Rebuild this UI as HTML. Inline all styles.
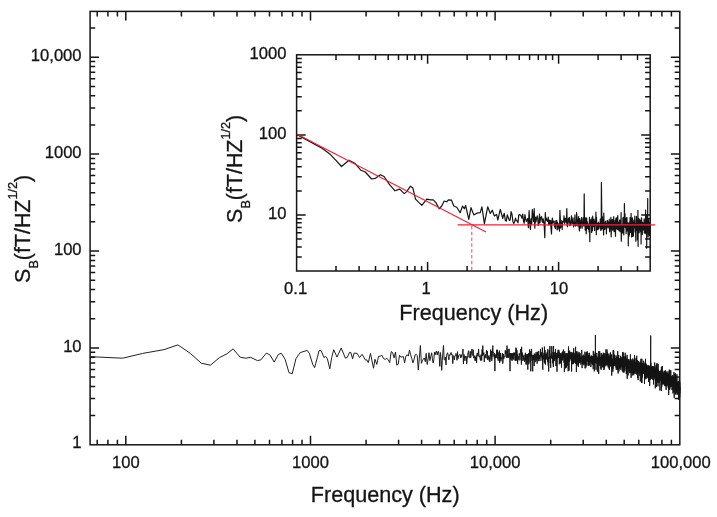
<!DOCTYPE html>
<html lang="en">
<head>
<meta charset="utf-8">
<title>Magnetic field noise spectrum</title>
<style>
html,body{margin:0;padding:0;background:#ffffff;}
body{width:717px;height:517px;overflow:hidden;}
svg{display:block;}
</style>
</head>
<body>
<svg width="717" height="517" viewBox="0 0 717 517">
<rect x="0" y="0" width="717" height="517" fill="#ffffff"/>
<g font-family="'Liberation Sans', Arial, sans-serif" fill="#151515">
<rect x="90.1" y="11.4" width="589.7" height="433.4" fill="none" stroke="#151515" stroke-width="1.5"/>
<path d="M97.2 444.8v-5.1M97.2 11.4v5.1M107.9 444.8v-5.1M107.9 11.4v5.1M117.4 444.8v-5.1M117.4 11.4v5.1M125.8 444.8v-9M125.8 11.4v9M181.4 444.8v-5.1M181.4 11.4v5.1M213.9 444.8v-5.1M213.9 11.4v5.1M237 444.8v-5.1M237 11.4v5.1M254.9 444.8v-5.1M254.9 11.4v5.1M269.5 444.8v-5.1M269.5 11.4v5.1M281.9 444.8v-5.1M281.9 11.4v5.1M292.6 444.8v-5.1M292.6 11.4v5.1M302 444.8v-5.1M302 11.4v5.1M310.5 444.8v-9M310.5 11.4v9M366.1 444.8v-5.1M366.1 11.4v5.1M398.6 444.8v-5.1M398.6 11.4v5.1M421.6 444.8v-5.1M421.6 11.4v5.1M439.5 444.8v-5.1M439.5 11.4v5.1M454.2 444.8v-5.1M454.2 11.4v5.1M466.5 444.8v-5.1M466.5 11.4v5.1M477.2 444.8v-5.1M477.2 11.4v5.1M486.7 444.8v-5.1M486.7 11.4v5.1M495.1 444.8v-9M495.1 11.4v9M550.7 444.8v-5.1M550.7 11.4v5.1M583.2 444.8v-5.1M583.2 11.4v5.1M606.3 444.8v-5.1M606.3 11.4v5.1M624.2 444.8v-5.1M624.2 11.4v5.1M638.8 444.8v-5.1M638.8 11.4v5.1M651.2 444.8v-5.1M651.2 11.4v5.1M661.9 444.8v-5.1M661.9 11.4v5.1M671.4 444.8v-5.1M671.4 11.4v5.1M90.1 415.6h5.1M679.8 415.6h-5.1M90.1 398.6h5.1M679.8 398.6h-5.1M90.1 386.5h5.1M679.8 386.5h-5.1M90.1 377.1h5.1M679.8 377.1h-5.1M90.1 369.4h5.1M679.8 369.4h-5.1M90.1 362.9h5.1M679.8 362.9h-5.1M90.1 357.3h5.1M679.8 357.3h-5.1M90.1 352.3h5.1M679.8 352.3h-5.1M90.1 347.9h9M679.8 347.9h-9M90.1 318.7h5.1M679.8 318.7h-5.1M90.1 301.7h5.1M679.8 301.7h-5.1M90.1 289.6h5.1M679.8 289.6h-5.1M90.1 280.2h5.1M679.8 280.2h-5.1M90.1 272.5h5.1M679.8 272.5h-5.1M90.1 266h5.1M679.8 266h-5.1M90.1 260.4h5.1M679.8 260.4h-5.1M90.1 255.4h5.1M679.8 255.4h-5.1M90.1 251h9M679.8 251h-9M90.1 221.8h5.1M679.8 221.8h-5.1M90.1 204.8h5.1M679.8 204.8h-5.1M90.1 192.7h5.1M679.8 192.7h-5.1M90.1 183.3h5.1M679.8 183.3h-5.1M90.1 175.6h5.1M679.8 175.6h-5.1M90.1 169.1h5.1M679.8 169.1h-5.1M90.1 163.5h5.1M679.8 163.5h-5.1M90.1 158.5h5.1M679.8 158.5h-5.1M90.1 154.1h9M679.8 154.1h-9M90.1 124.9h5.1M679.8 124.9h-5.1M90.1 107.9h5.1M679.8 107.9h-5.1M90.1 95.8h5.1M679.8 95.8h-5.1M90.1 86.4h5.1M679.8 86.4h-5.1M90.1 78.7h5.1M679.8 78.7h-5.1M90.1 72.2h5.1M679.8 72.2h-5.1M90.1 66.6h5.1M679.8 66.6h-5.1M90.1 61.6h5.1M679.8 61.6h-5.1M90.1 57.2h9M679.8 57.2h-9M90.1 28h5.1M679.8 28h-5.1" fill="none" stroke="#151515" stroke-width="1.5"/>
<polyline points="90.5,356.7 122.7,358.2 142.7,353.4 164.1,349.6 177.9,344.9 190.4,353.4 201.2,363.2 210.5,365.2 219.3,357.7 226.9,353.9 233.1,348.9 240.2,357.2 245.7,358.2 250.7,357.4 257.5,360.6 260.9,359.8 266.4,353.1 270.1,355.1 274.2,362.1 278.4,354.3 281.4,353.4 285.1,359.3 289,372.7 292.2,373.8 296,358.5 300.2,352.6 307.2,350.4 309.4,353.4 312.7,364.3 314.6,367.7 317.3,357.6 319.1,350.6 321.1,350.6 324,357.6 325.6,356.4 327.3,358.5 329.8,368.8 331.7,357.6 333.7,349.7 337,357.1 341.2,348.1 345.4,358.1 347.1,357.6 349.6,352.3 350.9,352.6 352.6,358.8 354.1,353.1 357.1,353.4 359.6,357.6 362.1,354.3 365.5,360.1 366.8,359.8 368.3,362.6 370.5,353.4 373.5,368.2 375,359.3 376.8,364.4 378.5,356.4 380.2,356.2 381.9,355.2 383.5,358.5 385.1,359.4 386.7,358.4 388.2,359.7 389.7,362.6 391.2,351.6 392.6,352.6 394.1,357.9 395.5,352 396.8,365.2 398.2,364.3 399.5,355.3 400.8,357.1 402.1,356.8 403.4,356.6 404.6,362.9 405.9,356.1 407.1,354.7 408.3,356.1 409.5,350 410.6,354.8 411.8,358.5 412.9,362.8 414,359.7 415.1,355 416.2,354.3 417.2,355.5 418.3,369.9 419.3,358.1 420.4,345.5 421.4,363.3 422.4,360.7 423.4,359.1 424.3,358 425.3,361.7 426.2,353.4 427.2,364.5 428.1,359.1 429,352.7 429.9,360.6 430.8,356.4 431.7,352.8 432.4,358.7 433.1,363 433.8,359.8 434.5,352.1 435.2,354.8 435.9,352 436.5,351 437.2,354.9 437.9,351.7 438.5,351.3 439.2,356.4 439.8,366.4 440.4,352.5 441.1,358.9 441.7,370.3 442.3,360.5 442.9,351.8 443.5,345.5 444.2,359.5 444.8,360.2 445.4,357.1 446,364.9 446.5,355.7 447.1,353.3 447.7,352.8 448.3,356.7 448.9,359.9 449.4,354.7 450,355.4 450.6,353.3 451.1,352.4 451.7,355 452.2,354.5 452.8,363.6 453.3,355.5 453.8,356.4 454.4,359.9 454.9,355.7 455.4,355.8 456,353.4 456.5,354.8 457,360.3 457.5,351.7 458,358.8 458.5,355.7 459,355.1 459.5,354.6 460,355 460.5,357.8 461,354.5 461.5,357.3 462,354.7 462.5,353.2 463,349.1 463.4,364 463.9,354.3 464.4,355.8 464.9,360.8 465.3,356.2 465.8,357.5 466.3,356.3 466.7,363.8 467.2,359.2 467.6,355.4 468.1,352.6 468.5,350.7 469,357.6 469.4,357.6 469.8,356 470.3,351.3 470.7,357.8 471.2,354.8 471.6,351.2 472,349 472.4,354.6 472.9,355.7 473.3,349.8 473.7,358.1 474.1,356.7 474.5,355.7 475,360.6 475.4,357.1 475.8,360.8 476.2,355.5 476.6,362.9 477,353.5 477.4,352.9 477.8,356.1 478.2,356.1 478.6,348.9 479,355.9 479.4,357.1 479.8,355.8 480.2,359.2 480.5,360.5 480.9,354.7 481.3,354.4 481.7,360.5 482.1,349.4 482.4,355.8 482.8,345.6 483.2,355.1 483.6,354.9 483.9,352.6 484.3,362 484.7,355.5 485,357.5 485.4,357.1 485.8,354.1 486.1,358.4 486.5,350.3 486.8,353.4 487.1,354 487.4,351.1 487.7,359.9 487.9,356.6 488.2,359.2 488.5,357.2 488.8,355.6 489.1,359.3 489.3,361 489.6,357.7 489.9,361.9 490.1,355.3 490.4,355.7 490.7,349.6 491,359.2 491.2,356.7 491.5,351.2 491.8,360.9 492,357.5 492.3,357 492.6,347.8 492.8,345.6 493.1,352.8 493.3,352.2 493.6,353.7 493.9,356.4 494.1,354.9 494.4,359.1 494.6,353.1 494.9,371.1 495.1,355.3 495.4,354.9 495.7,357.9 495.9,354.4 496.2,354.8 496.4,357.8 496.7,349.8 496.9,353.9 497.2,355 497.4,349.8 497.7,358.8 497.9,356.9 498.2,360.8 498.4,354.5 498.6,354.8 498.9,352.3 499.1,357.2 499.4,350.6 499.6,363 499.9,354.6 500.1,358.2 500.3,360.2 500.6,352.9 500.8,361.2 501,361.3 501.3,357.4 501.5,359 501.8,358.4 502,357.7 502.2,355.7 502.5,353 502.7,363.7 502.9,362.5 503.1,360.8 503.4,354 503.6,355.5 503.8,358.9 504.1,357.3 504.3,356.3 504.5,356.2 504.7,356.8 505,355.3 505.2,350.5 505.4,350.3 505.6,353.7 505.9,351 506.1,356.8 506.3,356.2 506.5,357.7 506.8,350.7 507,345.6 507.2,354.7 507.4,354.6 507.6,357.5 507.9,349.1 508.1,353.3 508.3,357.9 508.5,355.4 508.7,354.6 508.9,357.5 509.1,348.8 509.4,354.8 509.6,354.1 509.8,353.1 510,371.2 510.2,354.9 510.4,353.2 510.6,358.9 510.8,357.6 511.1,359.8 511.3,353 511.5,356.7 511.7,356.9 511.9,355.5 512.1,360.8 512.3,353.1 512.5,358.6 512.7,358.1 512.9,356.3 513.1,355.5 513.3,355.2 513.5,352.7 513.7,359.6 513.9,353.2 514.1,355 514.3,353.2 514.5,355.2 514.7,355.8 514.9,352.4 515.1,360.5 515.3,356 515.5,360.7 515.7,359.8 515.9,347.6 516.1,355.1 516.3,356.4 516.5,348.8 516.7,360.7 516.9,350.1 517.1,356.5 517.3,354.2 517.5,362.6 517.7,363.7 517.9,356.5 518.1,356 518.2,359.8 518.4,357 518.6,356.6 518.8,356.3 519,355.8 519.2,353.3 519.4,353.3 519.6,355.2 519.8,360.4 520,358.3 520.1,357.1 520.3,354.9 520.5,349.2 520.7,351.8 520.9,352.8 521.1,359.4 521.3,358.7 521.4,364.6 521.6,346.8 521.8,355.6 522,354.7 522.2,355.5 522.3,352.6 522.5,357 522.7,356.1 522.9,361 523.1,356 523.3,356.5 523.4,359.5 523.6,359.5 523.8,357.9 524,354.8 524.1,356.4 524.3,358.6 524.5,358.4 524.7,361.8 524.9,358.1 525,358.9 525.2,355.9 525.4,352.8 525.6,359.8 525.7,360.2 525.9,354 526.1,364.7 526.2,356.9 526.4,363.7 526.6,355.5 526.8,354.5 526.9,354.6 527.1,356.8 527.3,354.2 527.5,354.2 527.6,360.7 527.8,369.6 528,354.5 528.1,358.4 528.3,362.5 528.5,357.9 528.6,353.3 528.8,364.3 529,353.2 529.1,354.1 529.3,356.6 529.5,350.1 529.6,349.4 529.8,353 530,357.9 530.1,362.5 530.3,351.2 530.5,355.9 530.6,359.3 530.8,371.3 531,355.9 531.1,354 531.3,356.8 531.4,349.4 531.6,348.9 531.8,354.6 531.9,360.7 532.1,360.2 532.2,358.7 532.4,355.4 532.6,357.7 532.7,371.3 532.9,355.5 533,359.4 533.2,355.2 533.4,360 533.5,355.3 533.7,358.9 533.8,356.2 534,362.6 534.2,366 534.3,353.5 534.5,358.3 534.6,355.1 534.8,355.9 534.9,359.8 535.1,356.3 535.2,362.2 535.4,354.4 535.6,356.1 535.7,356.2 535.9,355.9 536,352.1 536.2,352.1 536.3,360.6 536.5,358.3 536.6,355.5 536.8,353.7 536.9,354.3 537.1,363.7 537.2,362.5 537.4,351.8 537.5,352 537.7,357.3 537.8,358.9 538,354.8 538.1,355.9 538.3,354.3 538.4,361.1 538.6,354.7 538.7,350.9 538.9,357.1 539,357 539.2,355 539.3,357.2 539.5,359 539.6,355.6 539.8,356.8 539.9,361.1 540,360.9 540.2,357.8 540.3,355.3 540.5,348.9 540.6,356.5 540.8,353.7 540.9,354.2 541.1,357.5 541.2,357.1 541.3,354.6 541.5,355.4 541.6,352.2 541.8,355.4 541.9,358.9 542.1,360.7 542.2,359.4 542.3,347.5 542.5,352.7 542.6,364.9 542.8,369.7 542.9,356.9 543,357.7 543.2,354.7 543.3,356.2 543.5,357.3 543.6,359.3 543.7,357.6 543.9,357.2 544,352.7 544.2,358.1 544.3,362.7 544.4,346.6 544.6,350.5 544.7,359.5 544.9,363.6 545,350 545.1,352.1 545.3,358.6 545.4,359.3 545.5,364.5 545.7,353.8 545.8,354.4 545.9,355.1 546.1,359.7 546.2,357 546.3,358.5 546.5,354.3 546.6,357.3 546.7,353.8 546.9,353.9 547,352.7 547.1,352.2 547.3,352 547.4,358.7 547.5,353.1 547.7,362.2 547.8,349.2 547.9,358.2 548.1,358.7 548.2,365.6 548.3,362.6 548.5,357 548.6,362.3 548.7,371.5 548.9,357.4 549,358.2 549.1,356.8 549.3,350.2 549.4,358.5 549.5,349.9 549.6,356.5 549.8,355.9 549.9,346 550,357.4 550.2,363 550.3,360 550.4,356 550.5,359.7 550.7,367.8 550.8,357.6 550.9,356.3 551.1,357.2 551.2,353.4 551.3,358 551.4,356.1 551.6,358.3 551.7,357 551.8,346.1 551.9,353.5 552.1,356.5 552.2,358.2 552.3,356.3 552.4,359 552.6,356.8 552.7,356.2 552.8,363.4 552.9,351.9 553.1,353 553.2,354.4 553.3,367 553.4,348.2 553.6,346.1 553.7,358 553.8,354.3 553.9,361.3 554,358.1 554.2,357.3 554.3,352.2 554.4,360.9 554.5,355.1 554.7,359.4 554.8,354.9 554.9,355.5 555,357 555.1,356.5 555.3,354.5 555.4,355.4 555.5,349.3 555.6,358.3 555.7,359 555.9,356.1 556,366 556.1,364.7 556.2,355 556.3,366 556.5,353 556.6,358.4 556.7,358.1 556.8,356.7 556.9,355.4 557,371.7 557.2,355.5 557.3,352.5 557.4,358.3 557.5,356.9 557.6,358.4 557.8,358.1 557.9,356.3 558,350.2 558.1,349.8 558.2,356.2 558.3,355.1 558.4,358 558.6,356.2 558.7,357.3 558.8,349.9 558.9,355.4 559,357.3 559.1,351.6 559.3,364.3 559.4,360.2 559.5,356.1 559.6,357.5 559.7,356.1 559.8,357.1 559.9,363 560.1,353.4 560.2,355.6 560.3,355.5 560.4,353.1 560.5,359.2 560.6,355.1 560.7,360.4 560.8,363.1 561,356.5 561.1,363.9 561.2,358.9 561.3,356.6 561.4,357.7 561.5,367.7 561.6,363 561.7,357.7 561.8,353.4 562,360.2 562.1,352.3 562.2,354.9 562.3,357.9 562.4,357.9 562.5,359.7 562.6,351.6 562.7,360.4 562.8,355.3 563,357.9 563.1,355.3 563.2,356.1 563.3,356.9 563.4,349.6 563.5,356.9 563.6,355.6 563.7,354.5 563.8,358.2 563.9,357.3 564,362.8 564.1,355.8 564.3,359 564.4,371.9 564.5,360.3 564.6,354.4 564.7,351.3 564.8,361 564.9,357.9 565,360.6 565.1,354.2 565.2,365.3 565.3,357.3 565.4,359.2 565.5,353.6 565.6,368.4 565.7,356.3 565.9,360.5 566,357.2 566.1,359.6 566.2,363.4 566.3,353.1 566.4,355.7 566.5,367.6 566.6,361.8 566.7,362.1 566.8,356.7 566.9,356.8 567,358.1 567.1,356.6 567.2,356.8 567.3,365.8 567.4,361.8 567.5,360.9 567.6,353.5 567.7,356.5 567.8,355.1 567.9,353 568,359.4 568.1,359 568.2,371.2 568.3,356.3 568.5,346.5 568.6,358.7 568.7,359.2 568.8,361.2 568.9,359.8 569,370.6 569.1,362 569.2,354 569.3,359.6 569.4,362 569.5,356 569.6,350.6 569.7,357.2 569.8,358.3 569.9,355.2 570,358.8 570.1,356.3 570.2,354.3 570.3,355.8 570.4,355.5 570.5,356.8 570.6,353.4 570.7,353.4 570.8,351.9 570.9,358.9 571,355.3 571.1,360.6 571.2,353.8 571.3,357.8 571.4,357.1 571.5,363.1 571.6,371.5 571.7,352.2 571.8,361.8 571.9,364.3 572,360.9 572,353.5 572.1,352.5 572.2,363.7 572.3,355.1 572.4,353.7 572.5,356.9 572.6,359 572.7,356.4 572.8,359.3 572.9,354.8 573,364.2 573.1,361.2 573.2,355.8 573.3,356.7 573.4,363.6 573.5,361.8 573.6,357.9 573.7,348.2 573.8,358.5 573.9,359.3 574,358.6 574.1,355.7 574.2,352.8 574.3,359.1 574.4,354.8 574.5,357.3 574.6,360.7 574.6,362.5 574.7,355.5 574.8,357.4 574.9,360.8 575,354.7 575.1,359.5 575.2,355.4 575.3,363.4 575.4,356.1 575.5,352.2 575.6,346.8 575.7,358.5 575.8,356.5 575.9,363.8 576,358.2 576.1,357.3 576.1,360 576.2,360.3 576.3,364.1 576.4,372 576.5,357.6 576.6,351.3 576.7,355.8 576.8,360.9 576.9,363.8 577,357.5 577.1,354.7 577.2,356.7 577.3,362.6 577.3,362.5 577.4,359.5 577.5,360.6 577.6,360.4 577.7,365.4 577.8,356.4 577.9,351.6 578,360.1 578.1,353.9 578.2,360.1 578.3,357.9 578.3,361.9 578.4,367 578.5,359.3 578.6,360.1 578.7,354.3 578.8,358.3 578.9,356.2 579,352.7 579.1,356.3 579.2,359 579.2,355.5 579.3,353.5 579.4,363.1 579.5,352.6 579.6,353.9 579.7,361.1 579.8,358.4 579.9,359.7 580,356 580,359.7 580.1,353.3 580.2,358.1 580.3,362 580.4,357 580.5,360.3 580.6,362.4 580.7,360.1 580.7,359.1 580.8,364.7 580.9,360.2 581,356.8 581.1,358.3 581.2,361.5 581.3,358.3 581.4,357.2 581.4,355.5 581.5,354.7 581.6,353.6 581.7,350.1 581.8,351.6 581.9,357.2 582,361.3 582.1,358.7 582.1,368.1 582.2,356.1 582.3,363.5 582.4,362.1 582.5,362 582.6,359.3 582.7,363.9 582.7,355.7 582.8,356.1 582.9,358.6 583,359 583.1,359.7 583.2,356.5 583.3,359.5 583.3,363.5 583.4,354.7 583.5,357.4 583.6,356.1 583.7,357.6 583.8,360.1 583.8,365.2 583.9,357.4 584,358 584.1,357.6 584.2,364 584.3,361.1 584.3,361.1 584.4,364.1 584.5,363 584.6,364.2 584.7,356.1 584.8,358.1 584.9,357.1 584.9,351.7 585,359.6 585.1,368.4 585.2,361.2 585.3,356.6 585.3,357 585.4,356.9 585.5,359.8 585.6,357.5 585.7,361.8 585.8,359.3 585.8,358.9 585.9,367.6 586,355.6 586.1,353.7 586.2,357.6 586.3,352.2 586.3,354.7 586.4,361.2 586.5,365.4 586.6,364.6 586.7,353.7 586.7,352.2 586.8,361.9 586.9,359.1 587,361.1 587.1,357.4 587.2,356.7 587.2,351.3 587.3,360 587.4,361 587.5,353.8 587.6,360.5 587.6,356.9 587.7,358.2 587.8,361.4 587.9,361 588,353.2 588,358.7 588.1,365.7 588.2,355.1 588.3,356.5 588.4,360.5 588.4,357.8 588.5,358.2 588.6,359.9 588.7,365.8 588.8,357 588.8,357.6 588.9,362 589,356.7 589.1,362.9 589.2,354.9 589.2,364.2 589.3,360.2 589.4,365.3 589.5,358.8 589.5,352.8 589.6,354.7 589.7,359.7 589.8,359.9 589.9,359.7 589.9,358.3 590,360.7 590.1,361.9 590.2,359.3 590.2,361.3 590.3,358.3 590.4,362.3 590.5,356.7 590.6,358.3 590.6,358.7 590.7,357.5 590.8,362.4 590.9,367 590.9,357.1 591,360.8 591.1,359.1 591.2,355.5 591.3,361.6 591.3,356.7 591.4,362.3 591.5,356.1 591.6,355.8 591.6,363.2 591.7,360 591.8,363.7 591.9,356.6 591.9,359.7 592,356 592.1,358.7 592.2,357.2 592.2,362.3 592.3,356.6 592.4,364.7 592.5,358.1 592.6,357.6 592.6,357.2 592.7,359.5 592.8,356.8 592.9,364.5 592.9,358.2 593,356.1 593.1,360.8 593.2,361 593.2,369.1 593.3,350.9 593.4,358.3 593.5,358 593.5,361.3 593.6,358.4 593.7,357.8 593.8,363.4 593.8,360.2 593.9,361.2 594,363.2 594.1,365.6 594.1,360.6 594.2,362.5 594.3,357.3 594.3,371.4 594.4,356.2 594.5,357.4 594.6,356.3 594.6,360 594.7,354.3 594.8,358.5 594.9,363 594.9,357.2 595,361.9 595.1,358.1 595.2,360.7 595.2,352.2 595.3,362.8 595.4,335 595.5,357.5 595.5,360.9 595.6,356 595.7,359.6 595.7,360.9 595.8,363.8 595.9,364.2 596,369.9 596,363.6 596.1,356.1 596.2,356.9 596.2,362.5 596.3,360.3 596.4,357.3 596.5,362.2 596.5,358.6 596.6,359.1 596.7,362.6 596.8,360.8 596.8,352.9 596.9,359.2 597,364 597,362.1 597.1,357.6 597.2,358.4 597.3,358.1 597.3,358.1 597.4,371.8 597.5,364.3 597.5,366.2 597.6,359 597.7,364.5 597.8,361.5 597.8,357.5 597.9,356.7 598,358.8 598,359 598.1,359.3 598.2,363.9 598.2,360.2 598.3,360.9 598.4,358.7 598.5,355.6 598.5,362.4 598.6,357 598.7,374 598.7,351.2 598.8,360.2 598.9,357.2 599,359.2 599,365.4 599.1,365.3 599.2,359.2 599.2,360.2 599.3,360.7 599.4,355 599.4,357 599.5,358.3 599.6,354.3 599.6,362.9 599.7,351.2 599.8,359.8 599.9,364.5 599.9,361.6 600,366.2 600.1,357.5 600.1,357.4 600.2,359.2 600.3,359 600.3,361.9 600.4,360.3 600.5,358.3 600.5,358.2 600.6,360.2 600.7,357.6 600.7,360.6 600.8,356.9 600.9,363.5 601,368.6 601,358.7 601.1,369.7 601.2,353 601.2,358.3 601.3,361.6 601.4,363.2 601.4,365 601.5,362.7 601.6,353.7 601.6,353.5 601.7,360 601.8,360.4 601.8,361.4 601.9,361.7 602,355.8 602,359.7 602.1,355.1 602.2,367.4 602.2,364.7 602.3,356 602.4,366 602.4,357.9 602.5,359.5 602.6,359.2 602.6,363.1 602.7,366.4 602.8,356.8 602.8,359.6 602.9,359.3 603,361.7 603,354.4 603.1,362.5 603.2,362 603.2,355.9 603.3,357.7 603.4,358.8 603.4,352.7 603.5,364.5 603.6,364.2 603.6,361.2 603.7,365.4 603.8,357.7 603.8,357.5 603.9,370 604,361.6 604,367.8 604.1,357.2 604.2,358 604.2,361.9 604.3,368.7 604.4,353.3 604.4,367 604.5,358.7 604.6,364.4 604.6,357.6 604.7,359.9 604.7,360.2 604.8,354.8 604.9,356.9 604.9,358.9 605,360.1 605.1,360.8 605.1,358 605.2,361.7 605.3,357.3 605.3,357.8 605.4,361.4 605.5,364.9 605.5,359.6 605.6,358.3 605.7,361.9 605.7,357.1 605.8,366.3 605.8,360.6 605.9,360.7 606,349.4 606,357.1 606.1,353.5 606.2,363.9 606.2,358.5 606.3,357.4 606.4,355.2 606.4,353.2 606.5,356.5 606.5,358.6 606.6,362 606.7,361.3 606.7,357.7 606.8,363.7 606.9,365 606.9,363.9 607,349.5 607.1,365.2 607.1,360.4 607.2,359.9 607.2,360.3 607.3,364.2 607.4,352.5 607.4,358.2 607.5,362.1 607.6,362.9 607.6,359.9 607.7,357.8 607.7,359.9 607.8,365.2 607.9,360 607.9,359.4 608,356.5 608.1,362.1 608.1,361.2 608.2,367.4 608.2,361.6 608.3,366 608.4,359.1 608.4,360.3 608.5,355.9 608.6,363.5 608.6,356.1 608.7,364.8 608.7,359.6 608.8,353.6 608.9,364.2 608.9,365.5 609,368.5 609.1,355.7 609.1,363 609.2,359.5 609.2,356.6 609.3,359.7 609.4,358.6 609.4,370 609.5,361.2 609.5,360.5 609.6,361.6 609.7,360.4 609.7,357.8 609.8,361.4 609.8,362 609.9,363.9 610,359.2 610,360.6 610.1,360 610.2,355.1 610.2,358.4 610.3,357.8 610.3,358.8 610.4,352.8 610.5,363 610.5,352.4 610.6,363.4 610.6,365.5 610.7,360.5 610.8,363 610.8,366.2 610.9,355.6 610.9,359.2 611,357.3 611.1,361.2 611.1,358.7 611.2,366.9 611.2,358.1 611.3,355.5 611.4,363.1 611.4,363.9 611.5,360.7 611.5,357.3 611.6,359.8 611.7,354.4 611.7,375.6 611.8,370.1 611.8,362.3 611.9,365.2 612,358.6 612,361.5 612.1,364.3 612.1,363.4 612.2,359.5 612.3,360.5 612.3,368.1 612.4,359.7 612.4,361.2 612.5,360.6 612.5,361 612.6,360.5 612.7,364.4 612.7,359.3 612.8,360.7 612.8,371.6 612.9,371.8 613,360.9 613,368.9 613.1,364.2 613.1,365.2 613.2,350.4 613.3,362.2 613.3,359.2 613.4,365.5 613.4,364.1 613.5,350.5 613.5,365.5 613.6,358.3 613.7,364.3 613.7,350.9 613.8,355.7 613.8,364.1 613.9,358.6 614,362.6 614,360.8 614.1,363.5 614.1,366 614.2,358.6 614.2,360.5 614.3,359.1 614.4,354.7 614.4,360 614.5,361.8 614.5,360 614.6,361.5 614.6,364.9 614.7,363.7 614.8,366.2 614.8,364.3 614.9,362.6 614.9,360 615,364.5 615,362.8 615.1,365 615.2,362.2 615.2,365.2 615.3,358 615.3,360.5 615.4,363.7 615.4,359.3 615.5,361.2 615.6,360.6 615.6,358.8 615.7,359.6 615.7,363.6 615.8,358.8 615.8,361 615.9,363 616,357.6 616,355.4 616.1,366.8 616.1,360.6 616.2,368.1 616.2,367.3 616.3,369.9 616.3,358.4 616.4,367.7 616.5,358.1 616.5,361.3 616.6,362.1 616.6,356.8 616.7,361.4 616.7,361.7 616.8,362.3 616.9,362.4 616.9,360.3 617,360.2 617,358.2 617.1,357.7 617.1,359.6 617.2,363.9 617.2,364.5 617.3,369.8 617.4,369 617.4,366 617.5,358 617.5,364.1 617.6,363.5 617.6,369.7 617.7,360.7 617.7,351.2 617.8,359.5 617.9,360.6 617.9,362.9 618,361.6 618,361.2 618.1,373.5 618.1,362.1 618.2,358.6 618.2,361.8 618.3,361 618.3,367.1 618.4,364.8 618.5,359 618.5,359.2 618.6,357.9 618.6,361.9 618.7,355.1 618.7,362.1 618.8,361.2 618.8,360.6 618.9,365.4 619,371.4 619,359.1 619.1,361 619.1,360.4 619.2,359.7 619.2,363 619.3,361.1 619.3,358.3 619.4,358.4 619.4,368.9 619.5,359.5 619.5,365.8 619.6,363.8 619.7,359.9 619.7,358.7 619.8,368.8 619.8,359.7 619.9,363.5 619.9,359.8 620,362.4 620,365.6 620.1,364.7 620.1,362.6 620.2,365.4 620.2,361.5 620.3,363.7 620.4,361.5 620.4,363.3 620.5,364.9 620.5,365.8 620.6,364 620.6,359.1 620.7,355.8 620.7,368.1 620.8,359.8 620.8,362 620.9,369.8 620.9,360.6 621,365.1 621,365.1 621.1,361.6 621.2,363.9 621.2,361.9 621.3,357.8 621.3,358.3 621.4,362.4 621.4,361.8 621.5,360.9 621.5,359.9 621.6,365.2 621.6,366 621.7,367.1 621.7,357.5 621.8,361.8 621.8,361.4 621.9,363.3 621.9,361.1 622,362.6 622,358.7 622.1,362.2 622.2,363.3 622.2,362.8 622.3,371.3 622.3,362.2 622.4,363.9 622.4,360.1 622.5,369.2 622.5,364.4 622.6,352.2 622.6,367.2 622.7,363.3 622.7,364.1 622.8,366.3 622.8,360.9 622.9,367.6 622.9,365.7 623,358.4 623,363.7 623.1,372.4 623.1,363 623.2,371.2 623.2,352.3 623.3,362.6 623.3,368.5 623.4,363.6 623.5,358.3 623.5,364.1 623.6,361.7 623.6,362.5 623.7,362.6 623.7,359.5 623.8,364.6 623.8,362.8 623.9,359.7 623.9,356.4 624,360 624,372.6 624.1,366.6 624.1,361.5 624.2,356.7 624.2,361.3 624.3,364.7 624.3,363.1 624.4,365.8 624.4,362.1 624.5,358.8 624.5,364.4 624.6,365.9 624.6,362.7 624.7,364.1 624.7,369.1 624.8,371 624.8,361.1 624.9,369.3 624.9,367.4 625,361.4 625,363 625.1,363.8 625.1,366.8 625.2,352.8 625.2,359 625.3,361.9 625.3,361.7 625.4,363.8 625.4,359.8 625.5,365.2 625.5,360.4 625.6,361.8 625.6,360.7 625.7,356.6 625.7,356.1 625.8,364.2 625.8,363.6 625.9,365.9 625.9,363.1 626,362.4 626,364.4 626.1,367 626.1,358.9 626.2,364.8 626.2,364.6 626.3,374.1 626.3,370.8 626.4,366.1 626.4,358.6 626.5,364.4 626.5,362.5 626.6,373.4 626.6,365.2 626.7,365 626.7,362.4 626.8,363.5 626.8,359 626.9,358.9 626.9,366.2 627,362.8 627,366.7 627.1,354.9 627.1,365.4 627.2,361.3 627.2,378.8 627.3,363.9 627.3,361.8 627.4,365.6 627.4,369.4 627.5,365.6 627.5,363 627.6,366.5 627.6,363.2 627.7,368.3 627.7,366.7 627.8,360.7 627.8,362.8 627.9,363.8 627.9,368.7 628,371.3 628,365.9 628.1,360.9 628.1,375.5 628.2,368.9 628.2,368.4 628.2,364.5 628.3,363.2 628.3,359.3 628.4,365.2 628.4,362.6 628.5,362.3 628.5,360.2 628.6,363.1 628.6,368.6 628.7,367.2 628.7,364.3 628.8,364.1 628.8,362.8 628.9,367.1 628.9,359 629,363.9 629,365.6 629.1,364.5 629.1,365.1 629.2,361.2 629.2,369.2 629.3,369.3 629.3,366.1 629.4,362.6 629.4,363 629.5,360.7 629.5,362 629.5,365.4 629.6,373.1 629.6,364 629.7,369.4 629.7,363.8 629.8,366.9 629.8,366 629.9,366.9 629.9,364.1 630,368.9 630,367.6 630.1,361.5 630.1,361.3 630.2,363.5 630.2,367.6 630.3,368.3 630.3,370.8 630.4,364 630.4,363.7 630.4,354.4 630.5,363.5 630.5,364 630.6,365.6 630.6,372.9 630.7,366.4 630.7,365 630.8,371.5 630.8,369.9 630.9,365.6 630.9,364.6 631,369 631,361.6 631.1,377.9 631.1,366.3 631.2,364.1 631.2,369.9 631.2,359.4 631.3,368.5 631.3,365.3 631.4,365.9 631.4,368.3 631.5,364.1 631.5,368 631.6,364.5 631.6,361.4 631.7,365.4 631.7,366.9 631.8,370.8 631.8,373.1 631.9,363.7 631.9,366.6 631.9,362.7 632,360.6 632,361.8 632.1,362.7 632.1,375.5 632.2,374.2 632.2,362.6 632.3,362.4 632.3,364.6 632.4,363.6 632.4,369.9 632.5,365.3 632.5,364.5 632.5,367.2 632.6,366.7 632.6,363.5 632.7,361.9 632.7,363.1 632.8,358.5 632.8,364.4 632.9,368.6 632.9,365.5 633,373.4 633,369.8 633,365.1 633.1,366.3 633.1,363.6 633.2,367.1 633.2,375.3 633.3,363.7 633.3,369 633.4,367.6 633.4,360.6 633.5,372.3 633.5,363.5 633.5,362.2 633.6,363.6 633.6,367.5 633.7,360.9 633.7,364.6 633.8,367.7 633.8,363.5 633.9,366.2 633.9,373.5 634,367.6 634,367.9 634,374.4 634.1,371.8 634.1,359.4 634.2,368.3 634.2,364.1 634.3,361.8 634.3,371.5 634.4,365.2 634.4,365.8 634.5,355.2 634.5,365.5 634.5,365 634.6,372.2 634.6,365 634.7,370.8 634.7,363.3 634.8,364.9 634.8,369.7 634.9,365 634.9,367.8 634.9,362.5 635,365.4 635,363.2 635.1,365.2 635.1,365.5 635.2,370 635.2,369.2 635.3,363.9 635.3,373.6 635.3,369.9 635.4,366.3 635.4,367.5 635.5,365.8 635.5,368.9 635.6,362.6 635.6,370.5 635.7,365.2 635.7,368.1 635.7,363.5 635.8,371 635.8,366.4 635.9,362.3 635.9,365.3 636,363.9 636,365.8 636.1,358.6 636.1,370.3 636.1,370.2 636.2,357.7 636.2,362.3 636.3,363.8 636.3,366.1 636.4,374.6 636.4,361.2 636.4,369.3 636.5,367.7 636.5,365.3 636.6,369.7 636.6,368.5 636.7,363.1 636.7,355.8 636.8,367.4 636.8,365.9 636.8,366.2 636.9,371.8 636.9,373.1 637,364.1 637,362.7 637.1,371 637.1,367.9 637.1,365.4 637.2,365.9 637.2,364.9 637.3,364.8 637.3,373.9 637.4,371 637.4,368.9 637.4,371.8 637.5,362.8 637.5,360.3 637.6,364.6 637.6,370.2 637.7,366.7 637.7,361.6 637.8,367.3 637.8,366.8 637.8,378 637.9,370.9 637.9,368.7 638,368.2 638,364 638.1,380.1 638.1,371.1 638.1,369.7 638.2,372.1 638.2,363.6 638.3,367.4 638.3,360.9 638.4,368 638.4,366.4 638.4,369.6 638.5,364.9 638.5,364.4 638.6,371.3 638.6,365.2 638.7,369.1 638.7,364.9 638.7,369 638.8,366.6 638.8,364 638.9,362.3 638.9,363.3 638.9,370.9 639,365.5 639,363.3 639.1,368.3 639.1,373.4 639.2,363.8 639.2,370.3 639.2,369.6 639.3,367.6 639.3,368.2 639.4,366.8 639.4,372.7 639.5,364 639.5,367.4 639.5,366.3 639.6,367.5 639.6,371.2 639.7,373.1 639.7,362.8 639.8,375.8 639.8,367.5 639.8,366.6 639.9,364.8 639.9,367.9 640,368.8 640,368.8 640,370.9 640.1,369.5 640.1,365.3 640.2,361.4 640.2,366 640.3,367.5 640.3,365.3 640.3,381.5 640.4,373.2 640.4,373.9 640.5,370.5 640.5,374 640.5,368.5 640.6,370.1 640.6,372.4 640.7,365.9 640.7,372.5 640.8,364.1 640.8,368.2 640.8,366.3 640.9,361.8 640.9,358.8 641,370.5 641,366.2 641,365.5 641.1,363.4 641.1,371.7 641.2,362.3 641.2,366.3 641.2,364.5 641.3,368.5 641.3,363.6 641.4,370.8 641.4,370.9 641.5,368.4 641.5,382.9 641.5,370.1 641.6,376 641.6,367.6 641.7,370.4 641.7,367.7 641.7,368.4 641.8,371.8 641.8,367.5 641.9,366.5 641.9,383 641.9,358.8 642,370.6 642,365 642.1,373 642.1,370.7 642.2,369 642.2,365.5 642.2,365.9 642.3,366.8 642.3,364.4 642.4,363 642.4,371.6 642.4,365.4 642.5,369.3 642.5,377.5 642.6,368.4 642.6,365.5 642.6,373.4 642.7,367.8 642.7,373.5 642.8,370.9 642.8,363.8 642.8,368.5 642.9,368.6 642.9,367.3 643,364.2 643,373.7 643,366.8 643.1,365 643.1,365.5 643.2,372.8 643.2,369.3 643.2,367.8 643.3,371.8 643.3,365 643.4,370.1 643.4,365.8 643.4,367.5 643.5,366.9 643.5,367.8 643.6,368.5 643.6,366.6 643.6,360.8 643.7,370.1 643.7,369.3 643.8,362 643.8,371.5 643.8,367.9 643.9,365.4 643.9,370.6 644,368.6 644,366.5 644,366.8 644.1,367.7 644.1,374.2 644.2,367.6 644.2,373.3 644.2,371.4 644.3,367 644.3,370.6 644.4,372.1 644.4,372 644.4,368.7 644.5,368.5 644.5,384 644.6,371.2 644.6,372.6 644.6,366.4 644.7,379.9 644.7,370.8 644.8,367.6 644.8,365.7 644.8,363.5 644.9,367 644.9,371.4 645,368.2 645,365.5 645,367.5 645.1,368.3 645.1,372.2 645.2,375.5 645.2,364 645.2,376.8 645.3,368.2 645.3,378.8 645.3,368.8 645.4,369.7 645.4,377.7 645.5,364.8 645.5,369.1 645.5,358.8 645.6,368.4 645.6,370.8 645.7,368.4 645.7,370.6 645.7,369.8 645.8,368.7 645.8,368.3 645.9,374.6 645.9,371.6 645.9,366 646,367.8 646,374.6 646.1,372.5 646.1,369.2 646.1,365.6 646.2,369.4 646.2,370.2 646.2,363.7 646.3,371.5 646.3,372.4 646.4,371.5 646.4,370.9 646.4,366.6 646.5,368.4 646.5,369.1 646.6,378.7 646.6,372.7 646.6,369.1 646.7,368 646.7,374 646.7,364.8 646.8,373.1 646.8,375.3 646.9,373.8 646.9,366.9 646.9,366.1 647,376.9 647,369.4 647.1,371 647.1,367.6 647.1,368.7 647.2,372.7 647.2,366.5 647.2,372.9 647.3,369.5 647.3,368.4 647.4,370.2 647.4,375 647.4,372.1 647.5,370.9 647.5,371 647.6,372.8 647.6,368 647.6,366.3 647.7,372.8 647.7,377.4 647.7,373.3 647.8,367.4 647.8,377.5 647.9,373.1 647.9,373.5 647.9,370 648,376.4 648,365.2 648,374.1 648.1,370.1 648.1,371.3 648.2,375.6 648.2,365.7 648.2,372.9 648.3,373 648.3,368.4 648.3,369.8 648.4,378.1 648.4,374.3 648.5,377.8 648.5,370.9 648.5,381.7 648.6,365.7 648.6,370.2 648.7,370.4 648.7,366.7 648.7,376.5 648.8,374 648.8,373.8 648.8,381.8 648.9,374 648.9,369.9 649,369.9 649,374.4 649,368.4 649.1,374.3 649.1,374.7 649.1,372.6 649.2,373.5 649.2,365.7 649.2,373.2 649.3,367.3 649.3,373.6 649.4,369.5 649.4,369.2 649.4,372.3 649.5,369.6 649.5,376.3 649.5,368.7 649.6,369.2 649.6,371.6 649.7,385.9 649.7,366.4 649.7,368.6 649.8,374.5 649.8,369.7 649.8,370.9 649.9,367.8 649.9,371.6 650,373.3 650,377.9 650,370.6 650.1,372.7 650.1,366.6 650.1,369.5 650.2,376.7 650.2,367.5 650.3,371.1 650.3,372.9 650.3,374.8 650.4,371.6 650.4,376 650.4,373.8 650.5,367.3 650.5,370.9 650.5,379.7 650.6,369.9 650.6,369.5 650.7,335.6 650.7,375.3 650.7,370.1 650.8,373.3 650.8,374.1 650.8,371.9 650.9,374.7 650.9,362.7 650.9,374.9 651,371.7 651,377.3 651.1,377.6 651.1,377.6 651.1,369.5 651.2,372.2 651.2,368.8 651.2,371.1 651.3,369.4 651.3,374.7 651.3,370.5 651.4,368.3 651.4,373.8 651.5,377.1 651.5,373.4 651.5,367.1 651.6,370.8 651.6,378.5 651.6,370.9 651.7,376.2 651.7,370.1 651.7,368.7 651.8,372.9 651.8,370 651.9,376 651.9,370.2 651.9,371.7 652,366.4 652,378.9 652,376.7 652.1,366.5 652.1,373.5 652.1,370.9 652.2,373.2 652.2,373 652.3,366.3 652.3,368.6 652.3,378.6 652.4,369.1 652.4,376 652.4,375.1 652.5,369.7 652.5,373.9 652.5,379.6 652.6,376.4 652.6,372.2 652.6,374.5 652.7,372.6 652.7,366.9 652.8,370.5 652.8,366.2 652.8,370.7 652.9,371.8 652.9,376.5 652.9,374 653,370.8 653,378.7 653,370.4 653.1,372.1 653.1,375.3 653.1,370.8 653.2,370.6 653.2,376.7 653.3,373.4 653.3,372.2 653.3,374.6 653.4,379.5 653.4,366.4 653.4,372.6 653.5,375 653.5,377.5 653.5,384.4 653.6,370 653.6,371.4 653.6,373.4 653.7,377.8 653.7,373.3 653.7,368 653.8,374.9 653.8,374.1 653.9,377.9 653.9,373.3 653.9,371.5 654,370.6 654,369.5 654,369.5 654.1,368.2 654.1,369.1 654.1,370.6 654.2,371.5 654.2,374 654.2,371.5 654.3,371.9 654.3,369.3 654.3,371.2 654.4,372.2 654.4,367.9 654.5,370 654.5,376.2 654.5,372 654.6,371.6 654.6,371.1 654.6,375.1 654.7,362.5 654.7,373.2 654.7,376.6 654.8,370.4 654.8,372.4 654.8,371.7 654.9,370.7 654.9,372.9 654.9,376.2 655,374.9 655,372.1 655,379.5 655.1,370.7 655.1,373.8 655.1,377 655.2,372 655.2,371.9 655.3,377.7 655.3,371.3 655.3,388.3 655.4,371.7 655.4,380.2 655.4,372.8 655.5,370.7 655.5,381.6 655.5,375.8 655.6,374 655.6,373.6 655.6,372.5 655.7,378.6 655.7,375.7 655.7,367.6 655.8,372.5 655.8,380.1 655.8,378 655.9,369.4 655.9,373.1 655.9,377.1 656,375.8 656,365.2 656,372.2 656.1,369 656.1,375.2 656.1,371.4 656.2,372.8 656.2,376.7 656.3,372.8 656.3,372.6 656.3,377.8 656.4,373.6 656.4,387 656.4,369.1 656.5,369.4 656.5,372.5 656.5,370.9 656.6,372.8 656.6,376 656.6,372.2 656.7,378 656.7,373.6 656.7,376.1 656.8,374.5 656.8,372.4 656.8,375.5 656.9,375.9 656.9,370.3 656.9,363.5 657,377.2 657,373.3 657,363.5 657.1,374 657.1,379.8 657.1,377.9 657.2,379.2 657.2,367.5 657.2,368.9 657.3,374.9 657.3,372.1 657.3,372.3 657.4,380.9 657.4,379.4 657.4,375.2 657.5,371.5 657.5,373.6 657.5,382.4 657.6,377.7 657.6,374.7 657.6,376 657.7,375.2 657.7,380.7 657.7,373 657.8,370.3 657.8,382.9 657.8,377.5 657.9,380 657.9,373.5 657.9,375.8 658,372.9 658,386.3 658,380.3 658.1,364 658.1,368.1 658.1,370.6 658.2,376.7 658.2,372.3 658.2,374.5 658.3,377.1 658.3,380 658.3,380.1 658.4,372.3 658.4,369.7 658.4,369.9 658.5,374.1 658.5,378.4 658.5,370.4 658.6,374.4 658.6,375.8 658.6,374.9 658.7,379 658.7,379.8 658.7,374 658.8,379 658.8,374.9 658.8,374.3 658.9,377 658.9,380.4 658.9,377 659,373.1 659,375.3 659,373.6 659.1,374.6 659.1,382.7 659.1,373.2 659.2,377.2 659.2,381.2 659.2,375.5 659.3,375.6 659.3,382.3 659.3,376.2 659.4,376.2 659.4,374.4 659.4,380 659.5,372.2 659.5,373.3 659.5,371.3 659.6,378.2 659.6,375.7 659.6,374.4 659.7,376.5 659.7,373.8 659.7,374.5 659.8,377.6 659.8,374.5 659.8,372.1 659.9,375.3 659.9,370.8 659.9,390.4 660,374 660,372.7 660,371.2 660.1,380.4 660.1,375.5 660.1,372.6 660.2,375 660.2,375.9 660.2,380.6 660.3,378.3 660.3,375 660.3,379 660.4,376.4 660.4,375 660.4,376.3 660.4,374.3 660.5,374.3 660.5,370.9 660.5,378.2 660.6,372.8 660.6,377.6 660.6,376.7 660.7,373.4 660.7,372 660.7,374.7 660.8,370.6 660.8,374.8 660.8,372.4 660.9,376.5 660.9,377.2 660.9,377.9 661,374.3 661,378.1 661,376.9 661.1,378.2 661.1,377.4 661.1,375.4 661.2,375.8 661.2,378.6 661.2,379.5 661.3,372.5 661.3,386.2 661.3,391 661.4,368.9 661.4,376 661.4,374.1 661.4,366.8 661.5,380.1 661.5,380 661.5,383 661.6,373.4 661.6,381.5 661.6,374.1 661.7,383.5 661.7,378.8 661.7,381.2 661.8,376.1 661.8,386.6 661.8,375.6 661.9,380.4 661.9,381.2 661.9,378.6 662,375.2 662,382.8 662,376.2 662.1,380.4 662.1,374.7 662.1,374.9 662.2,384.6 662.2,376.5 662.2,378.4 662.2,377.6 662.3,374.2 662.3,366 662.3,366 662.4,375.1 662.4,377.1 662.4,375.5 662.5,375.6 662.5,378.4 662.5,374.1 662.6,374.1 662.6,383.4 662.6,373.1 662.7,380.9 662.7,379.4 662.7,374.7 662.8,382.8 662.8,370.7 662.8,374 662.8,375.4 662.9,384 662.9,381.3 662.9,379.7 663,372.9 663,377 663,373.9 663.1,380.4 663.1,381.1 663.1,379.7 663.2,383.9 663.2,377.8 663.2,383.6 663.3,376.8 663.3,381.2 663.3,379.2 663.4,377.6 663.4,380.1 663.4,377.8 663.4,375 663.5,375.2 663.5,379.3 663.5,378 663.6,375.8 663.6,384 663.6,378 663.7,372.5 663.7,379 663.7,375.9 663.8,376.8 663.8,374.3 663.8,376.1 663.9,377.5 663.9,383.6 663.9,382.6 663.9,384.7 664,378 664,376.6 664,377.6 664.1,376.8 664.1,376.5 664.1,379.6 664.2,379.9 664.2,377.8 664.2,382.2 664.3,377.7 664.3,377.2 664.3,372.9 664.3,375.4 664.4,371 664.4,380.7 664.4,377.2 664.5,377.3 664.5,375 664.5,384.1 664.6,378.7 664.6,371.9 664.6,375.8 664.7,378.2 664.7,381.7 664.7,376.9 664.7,386.1 664.8,373.8 664.8,379.4 664.8,377.2 664.9,379.1 664.9,377.8 664.9,379.6 665,374.2 665,382.3 665,380.9 665.1,375.2 665.1,377.6 665.1,376 665.1,379.6 665.2,384 665.2,374 665.2,379.3 665.3,370.2 665.3,384.6 665.3,378.1 665.4,379.4 665.4,382.6 665.4,378.5 665.5,385.2 665.5,375.4 665.5,383 665.5,374.2 665.6,383.9 665.6,376.8 665.6,377.1 665.7,371.6 665.7,377.9 665.7,378 665.8,372.3 665.8,375.6 665.8,372.5 665.8,375.6 665.9,386.2 665.9,381.9 665.9,376.4 666,379.6 666,377.2 666,386.1 666.1,371.6 666.1,378.6 666.1,389.9 666.2,378.5 666.2,381.5 666.2,381.4 666.2,374.6 666.3,377.8 666.3,380.5 666.3,381.6 666.4,375.5 666.4,378.6 666.4,384.1 666.5,380.7 666.5,381.5 666.5,381.4 666.5,379.7 666.6,380.8 666.6,377.3 666.6,377.3 666.7,381 666.7,378.9 666.7,378.3 666.8,373.9 666.8,385.3 666.8,378.2 666.8,378.7 666.9,373.9 666.9,381.6 666.9,379.6 667,386.1 667,380.4 667,372.9 667.1,377.8 667.1,380.5 667.1,378.4 667.1,372.9 667.2,379.5 667.2,373.9 667.2,379.4 667.3,378 667.3,378 667.3,374.6 667.4,374.9 667.4,378.7 667.4,382 667.4,376.1 667.5,378 667.5,375.7 667.5,383.1 667.6,377.1 667.6,383.5 667.6,378.4 667.6,380.2 667.7,376.4 667.7,377.2 667.7,381.8 667.8,379.7 667.8,374.3 667.8,380.4 667.9,384.4 667.9,376.8 667.9,378.7 667.9,384.3 668,377 668,371.3 668,379.7 668.1,376.8 668.1,383.5 668.1,379.7 668.2,383.5 668.2,386.5 668.2,385.6 668.2,374.9 668.3,387 668.3,388.2 668.3,379.2 668.4,384.1 668.4,379.6 668.4,375.6 668.4,384.8 668.5,375.9 668.5,377.1 668.5,378.1 668.6,378.9 668.6,380.2 668.6,379.3 668.7,378.7 668.7,394.8 668.7,376.1 668.7,380.4 668.8,382.2 668.8,373.8 668.8,377.8 668.9,378.5 668.9,380.2 668.9,378.6 668.9,378.4 669,377.2 669,384.3 669,377.3 669.1,382.5 669.1,376.1 669.1,375.4 669.1,382.5 669.2,379.6 669.2,389.2 669.2,378.3 669.3,386 669.3,369.6 669.3,382 669.4,378.2 669.4,373.9 669.4,375.4 669.4,382.9 669.5,377.8 669.5,375.5 669.5,377.8 669.6,388.5 669.6,377.6 669.6,389.6 669.6,378.8 669.7,389.5 669.7,383.8 669.7,382.1 669.8,386.9 669.8,383 669.8,382.6 669.8,380.5 669.9,387.4 669.9,376.2 669.9,382.3 670,384.4 670,370 670,386.3 670,381.5 670.1,380.4 670.1,380.1 670.1,380.9 670.2,379.6 670.2,380.9 670.2,384.1 670.2,379.4 670.3,385.1 670.3,381.4 670.3,376.7 670.4,383.6 670.4,382.8 670.4,373.9 670.4,379.4 670.5,381.2 670.5,378.2 670.5,384.3 670.6,381.2 670.6,384.6 670.6,379.1 670.6,379.9 670.7,379.1 670.7,382.1 670.7,379.6 670.8,383.2 670.8,382.9 670.8,370.4 670.8,378.6 670.9,386.7 670.9,380.7 670.9,380.2 671,377.5 671,381.5 671,385.6 671,385 671.1,381.1 671.1,383.3 671.1,383.7 671.2,382.1 671.2,382.2 671.2,381.2 671.2,382.9 671.3,381 671.3,377.3 671.3,379.9 671.4,376.3 671.4,382.9 671.4,379.6 671.4,375.9 671.5,384.8 671.5,385.2 671.5,379.2 671.6,381.1 671.6,386.3 671.6,378.6 671.6,379.7 671.7,379.9 671.7,379.8 671.7,381.2 671.8,377.3 671.8,382.9 671.8,383.5 671.8,384.4 671.9,383.7 671.9,382.3 671.9,377.7 672,378.4 672,380.2 672,387.3 672,390 672.1,379.6 672.1,380.7 672.1,379 672.1,380.2 672.2,381.8 672.2,379.2 672.2,385.8 672.3,384.7 672.3,383.7 672.3,380.1 672.3,376.9 672.4,378.7 672.4,387.3 672.4,384 672.5,384.2 672.5,375 672.5,387.7 672.5,385.3 672.6,378.6 672.6,383.7 672.6,385.6 672.7,384.6 672.7,377.4 672.7,381.3 672.7,390.1 672.8,381.2 672.8,377.3 672.8,384.9 672.8,384 672.9,381.9 672.9,383.1 672.9,385.8 673,387.3 673,381.8 673,393.4 673,383.6 673.1,378.9 673.1,380.3 673.1,388.5 673.2,379.4 673.2,383.3 673.2,378 673.2,382.2 673.3,383.5 673.3,384.3 673.3,382.1 673.3,379.1 673.4,385.4 673.4,380 673.4,381.9 673.5,380.8 673.5,380.5 673.5,382.5 673.5,384.1 673.6,382.1 673.6,376.6 673.6,381 673.6,387 673.7,383.8 673.7,384.2 673.7,385.5 673.8,386.1 673.8,382.9 673.8,382.2 673.8,383.6 673.9,384.6 673.9,372.1 673.9,379.9 674,382.2 674,378.8 674,391.7 674,381.2 674.1,383.7 674.1,378.7 674.1,382 674.1,386.9 674.2,387.5 674.2,397.8 674.2,379.5 674.3,381 674.3,389.2 674.3,380.7 674.3,382.1 674.4,383.2 674.4,387.5 674.4,384.1 674.4,387.4 674.5,383.8 674.5,388.6 674.5,380.3 674.6,379.6 674.6,381.5 674.6,391.3 674.6,388 674.7,389.5 674.7,383.1 674.7,382.6 674.7,390 674.8,374.1 674.8,382.2 674.8,380 674.9,382.4 674.9,377.6 674.9,385.9 674.9,386.4 675,385.6 675,382.1 675,383.8 675,381.1 675.1,389 675.1,380.9 675.1,391.7 675.2,387.6 675.2,385.7 675.2,393.5 675.2,385.5 675.3,386.4 675.3,385.5 675.3,376.8 675.3,386.6 675.4,383.2 675.4,380.6 675.4,373 675.4,382.5 675.5,381 675.5,382.1 675.5,384.9 675.6,383.4 675.6,387 675.6,394.5 675.6,381.3 675.7,381.6 675.7,387.1 675.7,382 675.7,383 675.8,381.4 675.8,383.4 675.8,379.2 675.8,381.7 675.9,386.5 675.9,381.5 675.9,386.4 676,386.9 676,384.1 676,387.3 676,389.7 676.1,392.7 676.1,380.3 676.1,377.1 676.1,383.1 676.2,392.4 676.2,388.9 676.2,381.6 676.3,384.6 676.3,382.9 676.3,384 676.3,387 676.4,382.3 676.4,384 676.4,386 676.4,384.6 676.5,382.2 676.5,383.6 676.5,378.3 676.5,391.8 676.6,387.1 676.6,383.4 676.6,384.1 676.6,383.4 676.7,382.1 676.7,386.8 676.7,391.7 676.8,384.9 676.8,382.4 676.8,392.8 676.8,392.8 676.9,383.9 676.9,383.3 676.9,385.4 676.9,374.3 677,387.9 677,382.2 677,381.7 677,386.7 677.1,389.2 677.1,384.8 677.1,395 677.2,383.8 677.2,383.8 677.2,383 677.2,388.5 677.3,387.5 677.3,383.3 677.3,389.5 677.3,389.4 677.4,384 677.4,386.6 677.4,388.8 677.4,383.9 677.5,388.7 677.5,382.2 677.5,382.1 677.5,384.3 677.6,389.8 677.6,385.3 677.6,385.3 677.7,385.2 677.7,393.9 677.7,385.8 677.7,383.4 677.8,384.3 677.8,383.1 677.8,383.9 677.8,384.8 677.9,384.8 677.9,384.4 677.9,385.2 677.9,386.4 678,385.3 678,384.5 678,384.6 678,381.4 678.1,381.4 678.1,385.4 678.1,385.8 678.1,382.7 678.2,386 678.2,382.1 678.2,383.7 678.3,384.1 678.3,383.4 678.3,385.8 678.3,383.1 678.4,383.3 678.4,384.3 678.4,386.3 678.4,390.2 678.5,387.3 678.5,389.4 678.5,390.6 678.5,381.8 678.6,386.6 678.6,399.7 678.6,382 678.6,386.8 678.7,389.3 678.7,386 678.7,385.3 678.7,386.7 678.8,385.4 678.8,390.3 678.8,381.5 678.8,385.7 678.9,384.5 678.9,384.7 678.9,384.3 679,380.9 679,384 679,388.8 679,386.6 679.1,384.3 679.1,381.8 679.1,386.5 679.1,390.1 679.2,387.5 679.2,384.2 679.2,386.2 679.2,388.1 679.3,383.6 679.3,384.7 679.3,387.2 679.3,378.1 679.4,388.2 679.4,384.6 679.4,388.9 679.4,384.6 679.5,386.6 679.5,388.5 679.5,385.2 679.5,385 679.6,393.2 679.6,386.5 679.6,388.1 679.6,381.2 679.7,390.1 679.7,387.4 679.7,397.5 679.7,382.8 679.8,384 679.8,393.6 679.8,387.5" fill="none" stroke="#151515" stroke-width="0.95" stroke-linejoin="round"/>
<rect x="296.6" y="54.8" width="353.6" height="216.2" fill="#ffffff" stroke="#151515" stroke-width="1.5"/>
<path d="M336 271v-5.1M336 54.8v5.1M359.1 271v-5.1M359.1 54.8v5.1M375.5 271v-5.1M375.5 54.8v5.1M388.2 271v-5.1M388.2 54.8v5.1M398.5 271v-5.1M398.5 54.8v5.1M407.3 271v-5.1M407.3 54.8v5.1M414.9 271v-5.1M414.9 54.8v5.1M421.6 271v-5.1M421.6 54.8v5.1M427.6 271v-9M427.6 54.8v9M467.1 271v-5.1M467.1 54.8v5.1M490.1 271v-5.1M490.1 54.8v5.1M506.5 271v-5.1M506.5 54.8v5.1M519.2 271v-5.1M519.2 54.8v5.1M529.6 271v-5.1M529.6 54.8v5.1M538.3 271v-5.1M538.3 54.8v5.1M545.9 271v-5.1M545.9 54.8v5.1M552.6 271v-5.1M552.6 54.8v5.1M558.6 271v-9M558.6 54.8v9M598.1 271v-5.1M598.1 54.8v5.1M621.1 271v-5.1M621.1 54.8v5.1M637.5 271v-5.1M637.5 54.8v5.1M296.6 256.9h5.1M650.2 256.9h-5.1M296.6 246.9h5.1M650.2 246.9h-5.1M296.6 239.1h5.1M650.2 239.1h-5.1M296.6 232.8h5.1M650.2 232.8h-5.1M296.6 227.4h5.1M650.2 227.4h-5.1M296.6 222.8h5.1M650.2 222.8h-5.1M296.6 218.7h5.1M650.2 218.7h-5.1M296.6 215h9M650.2 215h-9M296.6 190.9h5.1M650.2 190.9h-5.1M296.6 176.8h5.1M650.2 176.8h-5.1M296.6 166.8h5.1M650.2 166.8h-5.1M296.6 159h5.1M650.2 159h-5.1M296.6 152.7h5.1M650.2 152.7h-5.1M296.6 147.3h5.1M650.2 147.3h-5.1M296.6 142.7h5.1M650.2 142.7h-5.1M296.6 138.6h5.1M650.2 138.6h-5.1M296.6 134.9h9M650.2 134.9h-9M296.6 110.8h5.1M650.2 110.8h-5.1M296.6 96.7h5.1M650.2 96.7h-5.1M296.6 86.7h5.1M650.2 86.7h-5.1M296.6 78.9h5.1M650.2 78.9h-5.1M296.6 72.6h5.1M650.2 72.6h-5.1M296.6 67.2h5.1M650.2 67.2h-5.1M296.6 62.6h5.1M650.2 62.6h-5.1M296.6 58.5h5.1M650.2 58.5h-5.1" fill="none" stroke="#151515" stroke-width="1.5"/>
<polyline points="296.6,134.4 310,141.6 322,148.3 330.2,154.3 336,160.4 341.5,166.5 349,160.2 354.8,163.2 361,170.3 365.3,172 371.6,179 375.4,178.3 380.4,174.8 384.1,176.5 389.2,184.1 395,190.8 399.7,189.1 404.2,193.6 406.7,191.6 410.5,186.1 413,188.3 415.5,199.1 421.8,205.4 426.8,199.1 430.6,199.9 433.3,199.8 435.9,202.6 439.2,208.8 441.7,206 444.2,201 446.7,201.8 448.4,199.8 451.4,200.1 453.8,206 456.8,207.2 460.1,212.7 462.6,206 464.3,208.8 465.6,205.5 468.8,219.4 471,207.7 473.8,214.9 476.9,213.2 480.2,212.7 481.9,206.8 484.4,223.6 487.7,206.8 490.3,213.5 492.3,210.2 494.4,216 496.6,214.4 497.8,220.2 500.3,209.3 502.8,218.5 503.3,216 504.3,213.3 505.3,220.4 506.3,221.2 507.3,214.9 508.3,217.7 509.3,220.4 510.2,220 511.1,211.6 512,214.2 512.9,221.4 513.8,223.4 514.7,221.6 515.5,218.1 516.4,220.7 517.2,220.9 518,222.9 518.8,214.8 519.6,214.6 520.4,215.2 521.2,216.2 522,218.2 522.7,214.1 523.5,221.3 524.2,223.3 524.9,214.5 525.6,218.7 526.3,221.4 527,220 527.7,218.6 528.4,227.6 529.1,210.7 529.8,222.5 530.4,229.4 531.1,218.9 531.7,223.9 532.3,209.5 533,216.1 533.6,221.7 534.2,208.5 534.8,228.1 535.4,217.1 536,222 536.6,218.4 537.2,215.9 537.8,218.8 538.3,225.4 538.9,223.7 539.5,214 540,222.7 540.6,217.3 541.1,218.8 541.6,216.6 542.2,221.8 542.7,222.3 543.2,218.8 543.8,221.9 544.3,227.2 544.8,237.7 545.3,212.7 545.8,220.2 546.3,218.2 546.8,220.5 547.3,221.3 547.7,221.3 548.2,217.1 548.7,224.9 549.2,222 549.6,220.2 550.1,224.7 550.6,220.3 551,228.4 551.5,233.9 551.9,221.6 552.4,218.2 552.8,223.1 553.3,221.2 553.7,221.8 554.1,221.1 554.6,226.6 555,227 555.4,228.7 555.8,220.9 556.2,225 556.7,220.4 557.1,230 557.5,222.3 557.9,228.9 558.3,223.9 558.7,227.4 559.1,225.5 559.5,231.1 559.9,210.3 560.3,218.3 560.6,228 561,223 561.4,226.1 561.8,220.5 562.2,229.3 562.5,221.5 562.9,221.8 563.3,221.7 563.6,221.9 564,215.9 564.4,223.3 564.7,223.5 565.1,218.5 565.4,221.7 565.8,218.1 566.1,220.5 566.5,222.8 566.8,208.6 567.2,225.9 567.5,226.8 567.9,219.6 568.2,223.1 568.5,218.2 568.9,218.4 569.2,221.3 569.5,217.5 569.8,225.7 570.2,221 570.5,224.4 570.8,225 571.1,221.6 571.5,215.9 571.8,222.6 572.1,221.9 572.4,223.4 572.7,223.3 573,217.8 573.3,222.1 573.6,226.9 573.9,223.5 574.2,223.1 574.6,222.9 574.9,214.9 575.2,225.5 575.4,226.2 575.7,222.9 576,223.1 576.3,225.6 576.6,212.7 576.9,216.5 577.2,219.7 577.5,219.3 577.8,226 578.1,223.8 578.3,223.9 578.6,216.7 578.9,225.7 579.2,229.4 579.5,231 579.7,218.6 580,223.6 580.3,228.1 580.5,227.5 580.8,221.9 581.1,220.4 581.4,219.9 581.6,217.5 581.9,224.6 582.1,228.3 582.4,225 582.7,224.3 582.9,223.6 583.2,217.9 583.5,222.4 583.7,226 584,217.2 584.2,193.9 584.5,220.1 584.7,225.8 585,219.7 585.2,230.1 585.5,217.9 585.7,221.8 586,222.9 586.2,233.8 586.5,227.3 586.7,217.9 586.9,228.7 587.2,223.9 587.4,221.9 587.7,228.1 587.9,227.5 588.1,226.1 588.4,224.1 588.6,229.5 588.9,224.7 589.1,232 589.3,224.2 589.5,217.3 589.8,241.7 590,227 590.2,219.9 590.5,223.2 590.7,223 590.9,220.5 591.1,225.6 591.4,219.3 591.6,232.4 591.8,231.1 592,217.5 592.3,230.9 592.5,230.4 592.7,216.2 592.9,222.9 593.1,223.4 593.4,223 593.6,226.7 593.8,225.8 594,219.1 594.2,221.8 594.4,224.6 594.6,230.5 594.8,222.1 595.1,225.5 595.3,222.1 595.5,219.9 595.7,225 595.9,212 596.1,221.9 596.3,234.6 596.5,217 596.7,228.7 596.9,229.5 597.1,223.1 597.3,224.4 597.5,228.6 597.7,224.9 597.9,229.8 598.1,229.2 598.3,222.1 598.5,223.4 598.7,223.3 598.9,228.7 599.1,225.1 599.3,224.1 599.5,226.9 599.7,223.2 599.9,223.6 600.1,224 600.3,219.1 600.5,222.6 600.7,230.3 600.8,223.2 601,218.8 601.2,230.1 601.4,182.6 601.6,199 601.8,217.4 602,222.7 602.2,226.2 602.3,228.6 602.5,216.9 602.7,225.8 602.9,228.7 603.1,228.5 603.3,230.1 603.4,226.1 603.6,234.9 603.8,213.2 604,225.3 604.2,223.2 604.3,229.6 604.5,224 604.7,226.3 604.9,223.5 605,229.1 605.2,222 605.4,222.6 605.6,221.2 605.7,226.2 605.9,225.3 606.1,224.1 606.3,226.2 606.4,233.8 606.6,226.4 606.8,223.1 606.9,226.5 607.1,223.6 607.3,220.4 607.5,221.8 607.6,224.2 607.8,222.3 608,228 608.1,221.9 608.3,224.5 608.5,223.1 608.6,222.6 608.8,224.2 609,226.7 609.1,222.9 609.3,219.4 609.4,228.2 609.6,231.7 609.8,221.5 609.9,224.5 610.1,230 610.3,223.5 610.4,227.7 610.6,227 610.7,220.4 610.9,217.4 611.1,234.3 611.2,236.8 611.4,227 611.5,222.5 611.7,226.1 611.8,226.9 612,228.1 612.2,219.7 612.3,224.3 612.5,224.4 612.6,230.1 612.8,219.3 612.9,222.7 613.1,226.3 613.2,221.8 613.4,229.2 613.5,227 613.7,216.7 613.8,226.5 614,231.7 614.1,222.5 614.3,225.7 614.4,228.9 614.6,228.2 614.7,224.4 614.9,231.4 615,222.5 615.2,220.4 615.3,224.3 615.5,236.2 615.6,226.5 615.8,218.5 615.9,228.1 616.1,228.1 616.2,217.9 616.3,218.8 616.5,219.1 616.6,228.9 616.8,227.5 616.9,228.5 617.1,217.7 617.2,229.1 617.4,225.9 617.5,222.4 617.6,223.8 617.8,215.5 617.9,229.7 618.1,223 618.2,225.9 618.3,228.5 618.5,226.6 618.6,227.8 618.8,222.3 618.9,224.4 619,230.7 619.2,230.4 619.3,227.6 619.4,223.1 619.6,220.1 619.7,225.9 619.8,229.5 620,229.3 620.1,231.7 620.3,221.7 620.4,221 620.5,219.8 620.7,228.5 620.8,223.1 620.9,225.5 621.1,212.7 621.2,234.7 621.3,241.2 621.5,226.8 621.6,226.4 621.7,233.8 621.9,233.2 622,227.5 622.1,226.5 622.2,227.1 622.4,225.1 622.5,227.4 622.6,227.5 622.8,222.9 622.9,217.9 623,232.7 623.1,223.3 623.3,224.1 623.4,222.9 623.5,217.3 623.7,225.3 623.8,234.9 623.9,229 624,224.7 624.2,217.3 624.3,221.1 624.4,203.5 624.5,212 624.7,224.8 624.8,226.8 624.9,220.7 625,213.5 625.2,224.4 625.3,227.5 625.4,223.1 625.5,218.6 625.7,227.9 625.8,221.8 625.9,223.4 626,224 626.1,233.7 626.3,224.3 626.4,217.9 626.5,228.3 626.6,223 626.7,224.3 626.9,226.3 627,217.5 627.1,226.9 627.2,230.8 627.3,229.6 627.5,228.3 627.6,222.9 627.7,223.7 627.8,223 627.9,222.8 628.1,234.8 628.2,225.9 628.3,245.8 628.4,225.6 628.5,233.7 628.6,234.2 628.8,225 628.9,236.4 629,223 629.1,226.1 629.2,226.5 629.3,229 629.4,235.1 629.6,227.7 629.7,229.3 629.8,221.7 629.9,220.9 630,223.9 630.1,217.6 630.2,223.8 630.4,225.8 630.5,225.7 630.6,232.5 630.7,223.1 630.8,229.2 630.9,225.5 631,223.9 631.1,213.4 631.3,226.3 631.4,219.2 631.5,224.2 631.6,237 631.7,228.6 631.8,225.4 631.9,222.7 632,223.3 632.1,229.6 632.2,221 632.4,217.8 632.5,233.6 632.6,221.7 632.7,236.5 632.8,225.4 632.9,226.9 633,223.8 633.1,223.1 633.2,232.2 633.3,231.8 633.4,236 633.5,225.9 633.6,223.9 633.8,222.6 633.9,220 634,227.7 634.1,221.1 634.2,225.9 634.3,227.8 634.4,221.2 634.5,223.1 634.6,224.7 634.7,227.7 634.8,216.2 634.9,222.4 635,219.2 635.1,232.1 635.2,230.5 635.3,225.2 635.4,228 635.5,225.6 635.6,225.2 635.7,229.6 635.8,241.2 635.9,223.5 636,227.2 636.2,230.5 636.3,223.7 636.4,227 636.5,216.3 636.6,223.7 636.7,223 636.8,226.5 636.9,230.4 637,221.1 637.1,225.6 637.2,223.8 637.3,222.7 637.4,240 637.5,222.6 637.6,228.4 637.7,224.1 637.8,227.6 637.9,210.4 638,224.1 638.1,246.3 638.2,220 638.3,227.5 638.4,224.2 638.4,232.6 638.5,222.7 638.6,218.6 638.7,229.2 638.8,231.9 638.9,223.5 639,227.1 639.1,224.5 639.2,232.7 639.3,219.2 639.4,224.6 639.5,223.7 639.6,228.7 639.7,222.6 639.8,222.4 639.9,228.1 640,220.4 640.1,230.1 640.2,223.7 640.3,221.6 640.4,225.4 640.5,228.5 640.6,231.8 640.7,228.4 640.8,230.4 640.8,231.3 640.9,227.7 641,219.9 641.1,244 641.2,224.4 641.3,224.3 641.4,217.8 641.5,230.3 641.6,218.1 641.7,228.1 641.8,226.1 641.9,227.9 642,222.3 642.1,227.7 642.1,228.7 642.2,228.6 642.3,234.6 642.4,222.2 642.5,223.9 642.6,226.4 642.7,225.5 642.8,224.3 642.9,224.8 643,225.9 643.1,225.5 643.1,223.9 643.2,223 643.3,230 643.4,230 643.5,226.9 643.6,228.6 643.7,226.6 643.8,224.8 643.9,222.6 644,227.1 644,227.9 644.1,218.9 644.2,226.7 644.3,233.1 644.4,224.4 644.5,224.8 644.6,224.1 644.7,220 644.7,223.7 644.8,232.8 644.9,226.3 645,222.5 645.1,229.7 645.2,231.1 645.3,229.7 645.4,223.6 645.4,231.3 645.5,233 645.6,210.2 645.7,225.1 645.8,226.8 645.9,225.1 646,229.8 646,232.5 646.1,233.7 646.2,231.9 646.3,226.3 646.4,224.5 646.5,234.9 646.6,224.4 646.6,225.6 646.7,248.2 646.8,222.8 646.9,214.9 647,221.2 647.1,226.5 647.1,232.2 647.2,228.8 647.3,222 647.4,218.6 647.5,231.7 647.6,225.8 647.7,198.5 647.7,228 647.8,231.3 647.9,226.4 648,226.4 648.1,237.1 648.1,219.7 648.2,223.9 648.3,227 648.4,233 648.5,225.1 648.6,219.8 648.6,235 648.7,232.4 648.8,219.7 648.9,222 649,226.3 649.1,227.5 649.1,223.3 649.2,231.5 649.3,225.5 649.4,228 649.5,222.9 649.5,235.4 649.6,232.4 649.7,228 649.8,229.3 649.9,224.7 649.9,232.3 650,231.7 650.1,232.7 650.2,229.8" fill="none" stroke="#151515" stroke-width="1.2" stroke-linejoin="round"/>
<g fill="none" stroke="#ee2238" stroke-width="1.12">
<path d="M296.8 133.9L486.1 231.9"/>
<path d="M457.6 224.9H655.2"/>
<path d="M471.8 226V271" stroke-dasharray="3.4 2.4" stroke-width="1" stroke-opacity="0.85"/>
</g>
<g stroke="#151515" stroke-width="0.3">
<text x="125.8" y="467.7" font-size="16.6" text-anchor="middle">100</text>
<text x="310.5" y="467.7" font-size="16.6" text-anchor="middle">1000</text>
<text x="495.1" y="467.7" font-size="16.6" text-anchor="middle">10,000</text>
<text x="680.8" y="467.7" font-size="16.6" text-anchor="middle">100,000</text>
<text x="81.6" y="448.4" font-size="16.6" text-anchor="end">1</text>
<text x="81.6" y="351.5" font-size="16.6" text-anchor="end">10</text>
<text x="81.6" y="254.6" font-size="16.6" text-anchor="end">100</text>
<text x="81.6" y="157.7" font-size="16.6" text-anchor="end">1000</text>
<text x="81.6" y="60.8" font-size="16.6" text-anchor="end">10,000</text>
<text x="295.6" y="294" font-size="16.6" text-anchor="middle">0.1</text>
<text x="426.2" y="294" font-size="16.6" text-anchor="middle">1</text>
<text x="559" y="294" font-size="16.6" text-anchor="middle">10</text>
<text x="286.4" y="218.8" font-size="16.6" text-anchor="end">10</text>
<text x="286.4" y="138.7" font-size="16.6" text-anchor="end">100</text>
<text x="286.4" y="58.6" font-size="16.6" text-anchor="end">1000</text>
<text x="385.2" y="502.4" font-size="21.6" text-anchor="middle">Frequency (Hz)</text>
<text x="473.7" y="320.3" font-size="21.6" text-anchor="middle">Frequency (Hz)</text>
<text transform="translate(29.5 282.9) rotate(-90)" font-size="21.4">S<tspan font-size="12.7" dy="8.1">B</tspan><tspan dy="-8.1">(fT/HZ</tspan><tspan font-size="12.7" dy="-12.1">1/2</tspan><tspan dy="12.1">)</tspan></text>
<text transform="translate(241.9 222.9) rotate(-90)" font-size="21.4">S<tspan font-size="12.7" dy="8.1">B</tspan><tspan dy="-8.1">(fT/HZ</tspan><tspan font-size="12.7" dy="-12.1">1/2</tspan><tspan dy="12.1">)</tspan></text>
</g>
</g>
</svg>
</body>
</html>
